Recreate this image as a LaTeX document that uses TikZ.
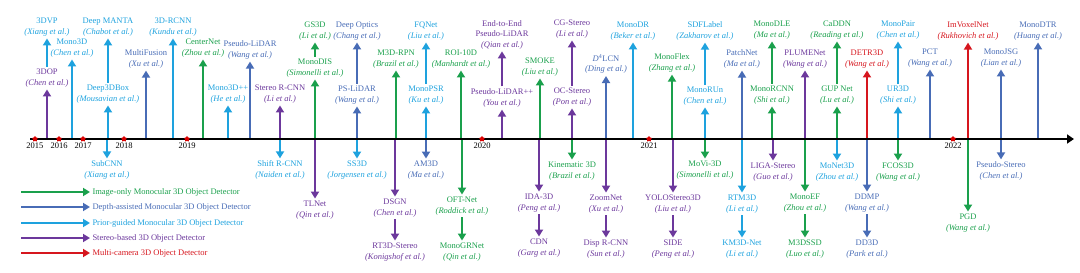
\documentclass[tikz,border=0pt]{standalone}
\usepackage{fontspec}
\setmainfont{Liberation Serif}
\usepackage{tikz}
\usetikzlibrary{arrows.meta,shapes.geometric}
\definecolor{imgc}{RGB}{26,160,76}
\definecolor{depc}{RGB}{72,108,182}
\definecolor{pric}{RGB}{30,162,222}
\definecolor{stec}{RGB}{108,56,156}
\definecolor{mulc}{RGB}{214,22,30}

\begin{document}
\begin{tikzpicture}[x=1pt, y=-1pt,
  meth/.style={align=center, inner sep=1pt, outer sep=1.5pt, font=\fontsize{8.5}{10.5}\selectfont},
  img/.style={meth, text=imgc}, dep/.style={meth, text=depc}, pri/.style={meth, text=pric},
  ste/.style={meth, text=stec}, mul/.style={meth, text=mulc},
  arr/.style={line width=2.5pt, -{Triangle[width=8pt,length=7pt]}},
  imgarr/.style={arr, draw=imgc}, deparr/.style={arr, draw=depc}, priarr/.style={arr, draw=pric},
  stearr/.style={arr, draw=stec}, mularr/.style={arr, draw=mulc},
  yr/.style={star, star points=5, fill=red!85!black, inner sep=0pt, minimum size=6pt,
    label={[font=\fontsize{8.5}{10}\selectfont, inner sep=1pt]below:#1}}]
  \useasboundingbox (0,0) rectangle (1080,273);
  \coordinate (ax) at (0,139);
  \coordinate (axstart) at (30,139);
  \coordinate (axend) at (1074,139);

  % methods above the time line
  \node[ste] (dop3) at (47,78) {3DOP\\\textit{(Chen et al.)}};
  \node[pri] (dvp3) at (47,27) {3DVP\\\textit{(Xiang et al.)}};
  \node[pri] (mono3d) at (72,48) {Mono3D\\\textit{(Chen et al.)}};
  \node[pri] (deepbox) at (108,94) {Deep3DBox\\\textit{(Mousavian et al.)}};
  \node[pri] (deepmanta) at (108,27) {Deep MANTA\\\textit{(Chabot et al.)}};
  \node[dep] (multifusion) at (146,59) {MultiFusion\\\textit{(Xu et al.)}};
  \node[pri] (rcnn3d) at (173,27) {3D-RCNN\\\textit{(Kundu et al.)}};
  \node[img] (centernet) at (203,48) {CenterNet\\\textit{(Zhou et al.)}};
  \node[dep] (pseudolidar) at (250,50) {Pseudo-LiDAR\\\textit{(Wang et al.)}};
  \node[pri] (monopp) at (228,94) {Mono3D++\\\textit{(He et al.)}};
  \node[ste] (stereorcnn) at (280,94) {Stereo R-CNN\\\textit{(Li et al.)}};
  \node[img] (monodis) at (315,68) {MonoDIS\\\textit{(Simonelli et al.)}};
  \node[img] (gs3d) at (315,31) {GS3D\\\textit{(Li et al.)}};
  \node[dep] (pslidar) at (357,95) {PS-LiDAR\\\textit{(Wang et al.)}};
  \node[dep] (deepoptics) at (357,31) {Deep Optics\\\textit{(Chang et al.)}};
  \node[img] (m3drpn) at (396,59) {M3D-RPN\\\textit{(Brazil et al.)}};
  \node[pri] (monopsr) at (426,95) {MonoPSR\\\textit{(Ku et al.)}};
  \node[pri] (fqnet) at (426,31) {FQNet\\\textit{(Liu et al.)}};
  \node[img] (roi10d) at (461,59) {ROI-10D\\\textit{(Manhardt et al.)}};
  \node[ste] (pslpp) at (502,98) {Pseudo-LiDAR++\\\textit{(You et al.)}};
  \node[ste] (endtoend) at (502,34.5) {End-to-End\\Pseudo-LiDAR\\\textit{(Qian et al.)}};
  \node[img] (smoke) at (540,67) {SMOKE\\\textit{(Liu et al.)}};
  \node[ste] (ocstereo) at (572,97) {OC-Stereo\\\textit{(Pon et al.)}};
  \node[ste] (cgstereo) at (572,29) {CG-Stereo\\\textit{(Li et al.)}};
  \node[dep] (d4lcn) at (606,64) {\textit{D}\textsuperscript{4}LCN\\\textit{(Ding et al.)}};
  \node[pri] (monodr) at (633,31) {MonoDR\\\textit{(Beker et al.)}};
  \node[img] (monoflex) at (672,63) {MonoFlex\\\textit{(Zhang et al.)}};
  \node[pri] (monorun) at (705,96) {MonoRUn\\\textit{(Chen et al.)}};
  \node[pri] (sdflabel) at (705,31) {SDFLabel\\\textit{(Zakharov et al.)}};
  \node[dep] (patchnet) at (742,59) {PatchNet\\\textit{(Ma et al.)}};
  \node[img] (monorcnn) at (772,95) {MonoRCNN\\\textit{(Shi et al.)}};
  \node[img] (monodle) at (772,30) {MonoDLE\\\textit{(Ma et al.)}};
  \node[ste] (plumenet) at (805,59) {PLUMENet\\\textit{(Wang et al.)}};
  \node[img] (gupnet) at (837,95) {GUP Net\\\textit{(Lu et al.)}};
  \node[img] (caddn) at (837,30) {CaDDN\\\textit{(Reading et al.)}};
  \node[mul] (detr3d) at (867,59) {DETR3D\\\textit{(Wang et al.)}};
  \node[pri] (ur3d) at (898,95) {UR3D\\\textit{(Shi et al.)}};
  \node[pri] (monopair) at (898,30) {MonoPair\\\textit{(Chen et al.)}};
  \node[dep] (pct) at (930,58) {PCT\\\textit{(Wang et al.)}};
  \node[mul] (imvoxel) at (968,31) {ImVoxelNet\\\textit{(Rukhovich et al.)}};
  \node[dep] (monojsg) at (1001,58) {MonoJSG\\\textit{(Lian et al.)}};
  \node[dep] (monodtr) at (1038,31) {MonoDTR\\\textit{(Huang et al.)}};

  % methods below the time line
  \node[pri] (subcnn) at (107,170) {SubCNN\\\textit{(Xiang et al.)}};
  \node[pri] (shiftrcnn) at (280,170) {Shift R-CNN\\\textit{(Naiden et al.)}};
  \node[ste] (tlnet) at (315,210) {TLNet\\\textit{(Qin et al.)}};
  \node[pri] (ss3d) at (357,170) {SS3D\\\textit{(Jorgensen et al.)}};
  \node[ste] (dsgn) at (395,208) {DSGN\\\textit{(Chen et al.)}};
  \node[ste] (rt3d) at (395,252) {RT3D-Stereo\\\textit{(Konigshof et al.)}};
  \node[dep] (am3d) at (426,170) {AM3D\\\textit{(Ma et al.)}};
  \node[img] (oftnet) at (462,206) {OFT-Net\\\textit{(Roddick et al.)}};
  \node[img] (monogrnet) at (462,252) {MonoGRNet\\\textit{(Qin et al.)}};
  \node[ste] (ida3d) at (539,203) {IDA-3D\\\textit{(Peng et al.)}};
  \node[ste] (cdn) at (539,248) {CDN\\\textit{(Garg et al.)}};
  \node[img] (kinematic) at (572,171) {Kinematic 3D\\\textit{(Brazil et al.)}};
  \node[ste] (zoomnet) at (606,204) {ZoomNet\\\textit{(Xu et al.)}};
  \node[ste] (disprcnn) at (606,249) {Disp R-CNN\\\textit{(Sun et al.)}};
  \node[ste] (yolostereo) at (673,204) {YOLOStereo3D\\\textit{(Liu et al.)}};
  \node[ste] (side) at (673,249) {SIDE\\\textit{(Peng et al.)}};
  \node[img] (movi) at (705,170) {MoVi-3D\\\textit{(Simonelli et al.)}};
  \node[pri] (rtm3d) at (742,204) {RTM3D\\\textit{(Li et al.)}};
  \node[pri] (km3d) at (742,249) {KM3D-Net\\\textit{(Li et al.)}};
  \node[ste] (liga) at (773,172) {LIGA-Stereo\\\textit{(Guo et al.)}};
  \node[img] (monoef) at (805,203) {MonoEF\\\textit{(Zhou et al.)}};
  \node[img] (m3dssd) at (805,249) {M3DSSD\\\textit{(Luo et al.)}};
  \node[pri] (monet3d) at (837,172) {MoNet3D\\\textit{(Zhou et al.)}};
  \node[dep] (ddmp) at (867,203) {DDMP\\\textit{(Wang et al.)}};
  \node[dep] (dd3d) at (867,249) {DD3D\\\textit{(Park et al.)}};
  \node[img] (fcos3d) at (898,172) {FCOS3D\\\textit{(Wang et al.)}};
  \node[img] (pgd) at (968,223) {PGD\\\textit{(Wang et al.)}};
  \node[dep] (pseudostereo) at (1001,171) {Pseudo-Stereo\\\textit{(Chen et al.)}};

  % arrows from the time line
  \draw[stearr] (dop3 |- ax) -- (dop3);
  \draw[priarr] (dop3) -- (dvp3);
  \draw[priarr] (mono3d |- ax) -- (mono3d);
  \draw[priarr] (deepbox |- ax) -- (deepbox);
  \draw[priarr] (deepbox) -- (deepmanta);
  \draw[deparr] (multifusion |- ax) -- (multifusion);
  \draw[priarr] (rcnn3d |- ax) -- (rcnn3d);
  \draw[imgarr] (centernet |- ax) -- (centernet);
  \draw[deparr] (pseudolidar |- ax) -- (pseudolidar);
  \draw[priarr] (monopp |- ax) -- (monopp);
  \draw[stearr] (stereorcnn |- ax) -- (stereorcnn);
  \draw[imgarr] (monodis |- ax) -- (monodis);
  \draw[imgarr] (monodis) -- (gs3d);
  \draw[deparr] (pslidar |- ax) -- (pslidar);
  \draw[deparr] (pslidar) -- (deepoptics);
  \draw[imgarr] (m3drpn |- ax) -- (m3drpn);
  \draw[priarr] (monopsr |- ax) -- (monopsr);
  \draw[priarr] (monopsr) -- (fqnet);
  \draw[imgarr] (roi10d |- ax) -- (roi10d);
  \draw[stearr] (pslpp |- ax) -- (pslpp);
  \draw[stearr] (pslpp) -- (endtoend);
  \draw[imgarr] (smoke |- ax) -- (smoke);
  \draw[stearr] (ocstereo |- ax) -- (ocstereo);
  \draw[stearr] (ocstereo) -- (cgstereo);
  \draw[deparr] (d4lcn |- ax) -- (d4lcn);
  \draw[priarr] (monodr |- ax) -- (monodr);
  \draw[imgarr] (monoflex |- ax) -- (monoflex);
  \draw[priarr] (monorun |- ax) -- (monorun);
  \draw[priarr] (monorun) -- (sdflabel);
  \draw[deparr] (patchnet |- ax) -- (patchnet);
  \draw[imgarr] (monorcnn |- ax) -- (monorcnn);
  \draw[imgarr] (monorcnn) -- (monodle);
  \draw[stearr] (plumenet |- ax) -- (plumenet);
  \draw[imgarr] (gupnet |- ax) -- (gupnet);
  \draw[imgarr] (gupnet) -- (caddn);
  \draw[mularr] (detr3d |- ax) -- (detr3d);
  \draw[priarr] (ur3d |- ax) -- (ur3d);
  \draw[priarr] (ur3d) -- (monopair);
  \draw[deparr] (pct |- ax) -- (pct);
  \draw[mularr] (imvoxel |- ax) -- (imvoxel);
  \draw[deparr] (monojsg |- ax) -- (monojsg);
  \draw[deparr] (monodtr |- ax) -- (monodtr);

  \draw[priarr] (subcnn |- ax) -- (subcnn);
  \draw[priarr] (shiftrcnn |- ax) -- (shiftrcnn);
  \draw[stearr] (tlnet |- ax) -- (tlnet);
  \draw[priarr] (ss3d |- ax) -- (ss3d);
  \draw[stearr] (dsgn |- ax) -- (dsgn);
  \draw[stearr] (dsgn) -- (rt3d);
  \draw[deparr] (am3d |- ax) -- (am3d);
  \draw[imgarr] (oftnet |- ax) -- (oftnet);
  \draw[imgarr] (oftnet) -- (monogrnet);
  \draw[stearr] (ida3d |- ax) -- (ida3d);
  \draw[stearr] (ida3d) -- (cdn);
  \draw[imgarr] (kinematic |- ax) -- (kinematic);
  \draw[stearr] (zoomnet |- ax) -- (zoomnet);
  \draw[stearr] (zoomnet) -- (disprcnn);
  \draw[stearr] (yolostereo |- ax) -- (yolostereo);
  \draw[stearr] (yolostereo) -- (side);
  \draw[imgarr] (movi |- ax) -- (movi);
  \draw[priarr] (rtm3d |- ax) -- (rtm3d);
  \draw[priarr] (rtm3d) -- (km3d);
  \draw[stearr] (liga |- ax) -- (liga);
  \draw[imgarr] (monoef |- ax) -- (monoef);
  \draw[imgarr] (monoef) -- (m3dssd);
  \draw[priarr] (monet3d |- ax) -- (monet3d);
  \draw[deparr] (ddmp |- ax) -- (ddmp);
  \draw[deparr] (ddmp) -- (dd3d);
  \draw[imgarr] (fcos3d |- ax) -- (fcos3d);
  \draw[imgarr] (pgd |- ax) -- (pgd);
  \draw[deparr] (pseudostereo |- ax) -- (pseudostereo);

  % time line and years
  \draw[line width=2.6pt, -{Triangle[width=9pt,length=7pt]}] (axstart) -- (axend);
  \node[yr=2015] (y2015) at (35,139) {};
  \node[yr=2016] (y2016) at (59,139) {};
  \node[yr=2017] (y2017) at (83,139) {};
  \node[yr=2018] (y2018) at (124,139) {};
  \node[yr=2019] (y2019) at (187,139) {};
  \node[yr=2020] (y2020) at (482,139) {};
  \node[yr=2021] (y2021) at (649,139) {};
  \node[yr=2022] (y2022) at (953,139) {};

  % legend
  \coordinate (lgimgs) at (21,192);
  \coordinate (lgdeps) at (21,207);
  \coordinate (lgpris) at (21,223);
  \coordinate (lgstes) at (21,238);
  \coordinate (lgmuls) at (21,253);
  \node[img, anchor=west] (lgimg) at (90,192) {Image-only Monocular 3D Object Detector};
  \node[dep, anchor=west] (lgdep) at (90,207) {Depth-assisted Monocular 3D Object Detector};
  \node[pri, anchor=west] (lgpri) at (90,223) {Prior-guided Monocular 3D Object Detector};
  \node[ste, anchor=west] (lgste) at (90,238) {Stereo-based 3D Object Detector};
  \node[mul, anchor=west] (lgmul) at (90,253) {Multi-camera 3D Object Detector};
  \draw[imgarr] (lgimgs) -- (lgimg.west);
  \draw[deparr] (lgdeps) -- (lgdep.west);
  \draw[priarr] (lgpris) -- (lgpri.west);
  \draw[stearr] (lgstes) -- (lgste.west);
  \draw[mularr] (lgmuls) -- (lgmul.west);
\end{tikzpicture}
\end{document}
